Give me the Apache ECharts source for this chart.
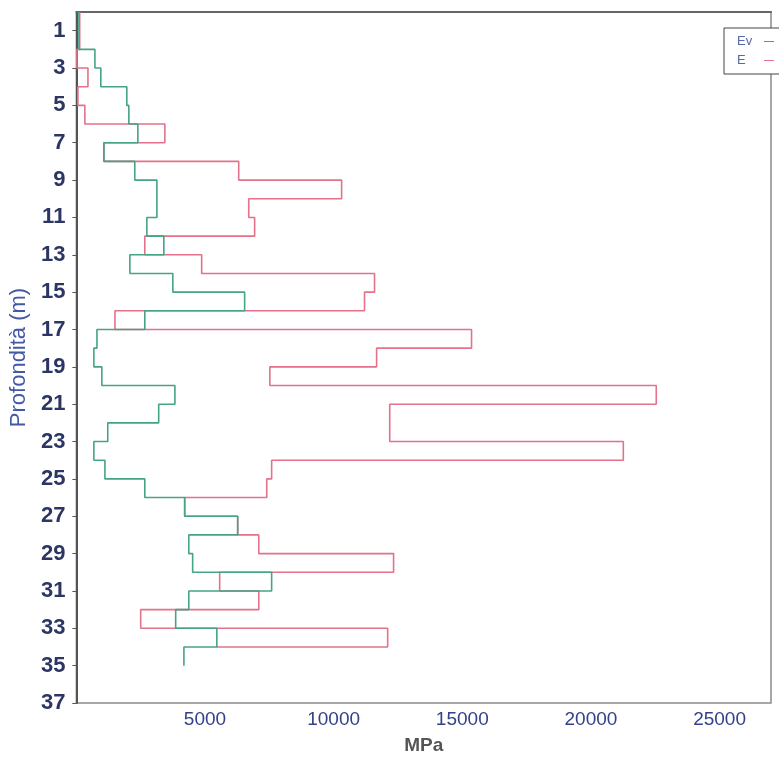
<!DOCTYPE html>
<html>
<head>
<meta charset="utf-8">
<title>Profondità - Ev / E</title>
<script src="https://cdn.jsdelivr.net/npm/echarts@6/dist/echarts.min.js"></script>
<style>
  html, body { margin: 0; padding: 0; background: #ffffff; }
  #chart { width: 779px; height: 760px; }
</style>
</head>
<body>
<div id="chart"></div>
<script>
// Layer boundaries (m) and modulus per layer (MPa) for each profile
const evDepths = [0, 2, 3, 4, 5, 6, 7, 8, 9, 11, 12, 13, 14, 15, 16, 17, 18, 19, 20, 21, 22, 23, 24, 25, 26, 27, 28, 29, 30, 31, 32, 33, 34, 35];
const evValues = [100, 720, 950, 1960, 2040, 2390, 1070, 2270, 3130, 2740, 3400, 2080, 3750, 6540, 2660, 800, 680, 990, 3830, 3200, 1220, 680, 1110, 2660, 4210, 6270, 4370, 4520, 7590, 4370, 3860, 5460, 4180];

const eDepths = [0, 2, 3, 4, 5, 6, 7, 8, 9, 10, 11, 12, 13, 14, 15, 16, 17, 18, 19, 20, 21, 23, 24, 25, 26, 27, 28, 29, 30, 31, 32, 33, 34];
const eValues = [130, 20, 450, 60, 330, 3440, 1070, 6310, 10310, 6700, 6930, 2660, 4870, 11590, 11200, 1500, 15360, 11670, 7520, 22540, 12180, 21260, 7590, 7400, 4210, 6270, 7090, 12330, 5570, 7090, 2500, 12100];
// the E trace closes with a horizontal run back to this value at its last depth
const eClose = 5460;

const depthTicks = [1, 3, 5, 7, 9, 11, 13, 15, 17, 19, 21, 23, 25, 27, 29, 31, 33, 35, 37];
const mpaTicks = [5000, 10000, 15000, 20000, 25000];

// Turn layers into a stepped profile: each layer is a vertical run at its value
function stepProfile(depths, values) {
  const pts = [];
  for (let i = 0; i < values.length; i++) {
    pts.push([values[i], depths[i]]);
    pts.push([values[i], depths[i + 1]]);
  }
  return pts;
}

const evLine = stepProfile(evDepths, evValues);
const eLine = stepProfile(eDepths, eValues);
eLine.push([eClose, eDepths[eDepths.length - 1]]);

const chart = echarts.init(document.getElementById('chart'), null, { renderer: 'canvas' });

chart.setOption({
  animation: false,
  backgroundColor: '#ffffff',
  grid: {
    left: 75, top: 12, right: 8, bottom: 52,
    show: true, borderColor: '#8a8a8a', borderWidth: 1.5
  },
  legend: {
    data: ['Ev', 'E'],
    orient: 'vertical',
    left: 724, top: 28,
    align: 'right',
    padding: [7, 8, 7, 13],
    itemGap: 6,
    icon: 'rect',
    itemWidth: 10, itemHeight: 1,
    borderColor: '#444', borderWidth: 1,
    backgroundColor: '#ffffff',
    formatter: name => '{t|' + name + '}',
    textStyle: {
      color: '#5868a8', fontSize: 13, fontFamily: 'Liberation Sans',
      rich: { t: { width: 22, align: 'left', color: '#5868a8', fontSize: 13, fontFamily: 'Liberation Sans' } }
    }
  },
  xAxis: {
    type: 'value',
    min: 0, max: 27000, interval: 5000,
    name: 'MPa',
    nameLocation: 'middle',
    nameGap: 33,
    nameTextStyle: { color: '#555', fontSize: 19, fontWeight: 'bold', fontFamily: 'Liberation Sans' },
    axisLine: { show: true, lineStyle: { color: '#666', width: 2 } },
    axisTick: { show: false },
    splitLine: { show: false },
    axisLabel: {
      customValues: mpaTicks,
      formatter: v => String(v),
      margin: 7,
      color: '#34418a', fontSize: 19, fontFamily: 'Liberation Sans'
    }
  },
  yAxis: {
    type: 'value',
    inverse: true,
    min: 0, max: 37,
    name: 'Profondità (m)',
    nameLocation: 'middle',
    nameGap: 44,
    nameRotate: 90,
    nameTextStyle: { color: '#4358a6', fontSize: 22, fontFamily: 'Liberation Sans' },
    axisLine: { show: true, lineStyle: { color: '#555', width: 2 } },
    axisTick: { show: true, customValues: depthTicks, length: 4, inside: false, lineStyle: { color: '#555' } },
    splitLine: { show: false },
    axisLabel: {
      customValues: depthTicks,
      margin: 11,
      color: '#2c3563', fontSize: 22, fontWeight: 'bold', fontFamily: 'Liberation Sans'
    }
  },
  series: [
    {
      name: 'Ev', type: 'line', data: evLine,
      symbol: 'none', color: '#45a386',
      lineStyle: { width: 1.6, color: '#45a386' },
      z: 3
    },
    {
      name: 'E', type: 'line', data: eLine,
      symbol: 'none', color: '#e3728a',
      lineStyle: { width: 1.6, color: '#e3728a' },
      z: 2
    }
  ]
});
</script>
</body>
</html>
